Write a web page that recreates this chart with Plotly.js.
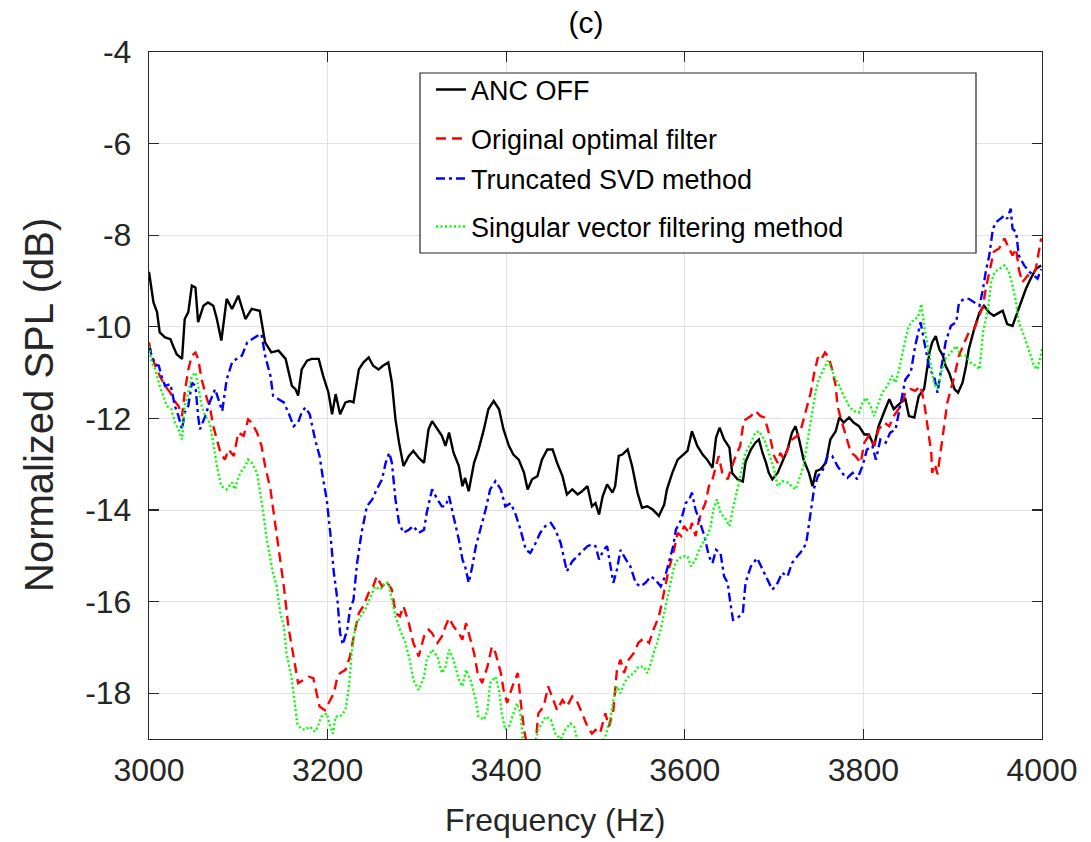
<!DOCTYPE html>
<html>
<head>
<meta charset="utf-8">
<script src="https://cdn.plot.ly/plotly-3.0.1.min.js"></script>
<style>html,body{margin:0;padding:0;background:#fff;}#chart{width:1091px;height:842px;}</style>
</head>
<body>
<div id="chart"></div>
<script>
// ---- data ----
var seriesNames = ['ANC OFF', 'Original optimal filter', 'Truncated SVD method', 'Singular vector filtering method'];

var freqOff = [3000,3003,3005,3009,3012,3018,3024,3027,3031,3037,3040,3044,3048,3052,3055,3061,3066,3072,3076,3081,3087,3093,3100,3108,3115,3124,3130,3137,3145,3153,3160,
3164,3167,3171,3177,3182,3190,3195,3201,3205,3209,3214,3220,3225,3229,3235,3240,3246,3251,3257,3262,3268,3272,3276,3280,3285,3291,3296,3302,3308,3313,3317,3323,3328,
3332,3336,3341,3347,3351,3354,3358,3364,3369,3375,3380,3386,3392,3397,3403,3408,3414,3420,3424,3429,3435,3440,3446,3452,3457,3463,3468,3474,3480,3485,3491,3496,
3500,3504,3508,3513,3519,3522,3526,3530,3536,3541,3547,3552,3558,3564,3571,3577,3580,3586,3592,3597,3603,3608,3614,3620,3625,3631,3635,3639,3644,3650,3653,3659,3665,
3668,3674,3679,3683,3687,3691,3694,3698,3704,3709,3715,3720,3724,3728,3733,3739,3743,3747,3752,3758,3763,3769,3773,3778,3784,3789,3795,3801,3806,3812,3817,3823,3829,3834,
3842,3847,3851,3857,3862,3868,3874,3877,3881,3885,3889,3892,3896,3902,3906,3911,3915,3918,3924,3930,3935,3941,3946,3952,3956,3961,3967,3971,3976,3982,3987,3993,3999];
var splOff = [-8.8,-9.25,-9.47,-9.68,-10.12,-10.23,-10.27,-10.42,-10.6,-10.7,-9.83,-9.68,-9.1,-9.14,-9.9,-9.54,-9.47,-9.54,-9.83,-10.3,-9.39,-9.61,-9.32,-9.83,-9.61,-9.65,-10.34,-10.56,-10.52,-10.7,-11.29,
-11.36,-11.5,-10.93,-10.74,-10.7,-10.7,-11.07,-11.44,-11.91,-11.47,-11.91,-11.65,-11.62,-11.65,-10.93,-10.78,-10.67,-10.85,-10.93,-10.85,-10.78,-11.22,-12.02,-12.53,-13.04,-12.82,-12.71,-12.86,-12.97,-12.24,-12.06,-12.24,-12.38,
-12.6,-12.31,-12.75,-13.04,-13.48,-13.3,-13.59,-12.97,-12.68,-12.24,-11.8,-11.62,-11.8,-12.24,-12.6,-12.79,-12.9,-13.19,-13.55,-13.33,-13.26,-12.9,-12.68,-12.68,-12.97,-13.26,-13.66,-13.55,-13.66,-13.59,-13.48,-13.92,
-13.85,-14.1,-13.7,-13.44,-13.62,-13.48,-12.82,-12.79,-12.68,-13.04,-13.62,-13.95,-13.92,-13.99,-14.13,-13.88,-13.55,-13.19,-12.9,-12.82,-12.71,-12.28,-12.6,-12.79,-12.9,-13.08,-12.42,-12.2,-12.46,-12.64,-13.19,-13.33,-13.38,
-12.95,-12.68,-12.53,-12.46,-12.75,-12.97,-13.19,-13.33,-13.19,-12.97,-12.68,-12.31,-12.17,-12.46,-12.9,-13.19,-13.48,-13.15,-13.11,-12.97,-12.46,-12.28,-11.98,-12.09,-11.98,-12.09,-12.17,-12.35,-12.35,-12.6,-12.17,-11.87,-11.58,-11.8,
-11.65,-11.58,-11.95,-11.98,-11.51,-11.36,-10.56,-10.34,-10.2,-10.49,-10.63,-10.85,-11.0,-11.36,-11.44,-11.22,-10.85,-10.49,-10.05,-9.69,-9.54,-9.69,-9.76,-9.69,-9.65,-9.94,-9.98,-9.76,-9.47,-9.17,-8.96,-8.74,-8.66];

var freqOpt = [3000,3003,3007,3012,3018,3024,3027,3033,3037,3040,3044,3048,3052,3055,3059,3065,3068,3072,3076,3080,3085,3089,3095,3100,3106,3111,3115,3121,3126,3130,3136,3141,3147,3151,3156,3162,
3164,3167,3173,3179,3184,3188,3191,3197,3203,3207,3211,3214,3220,3225,3230,3235,3240,3246,3251,3255,3261,3266,3272,3276,3281,3285,3291,3296,3302,3308,3313,3317,3323,3328,
3332,3336,3341,3347,3351,3355,3360,3364,3368,3373,3379,3384,3388,3394,3397,3401,3407,3413,3416,3420,3425,3432,3436,3442,3447,3451,3457,3463,3468,3474,3480,3485,3491,3496,
3500,3505,3511,3515,3520,3524,3528,3532,3537,3543,3548,3554,3560,3565,3571,3575,3578,3582,3588,3592,3596,3599,3605,3608,3612,3616,3620,3623,3627,3631,3635,3638,3642,3648,3653,3657,3662,3666,
3674,3679,3685,3689,3692,3696,3700,3704,3707,3711,3715,3720,3726,3730,3733,3737,3741,3745,3749,3752,3757,3761,3765,3769,3771,3775,3780,3786,3791,3797,3801,3806,3812,3817,3823,3829,3834,
3842,3847,3853,3858,3864,3868,3872,3876,3877,3880,3883,3887,3891,3894,3898,3902,3907,3913,3918,3924,3930,3934,3937,3941,3946,3952,3958,3963,3967,3971,3974,3978,3984,3989,3993,3999];
var splOpt = [-10.34,-10.63,-10.85,-11.07,-11.29,-11.44,-11.58,-11.73,-11.95,-11.44,-10.93,-10.63,-10.56,-10.7,-11.15,-11.58,-11.73,-12.17,-12.46,-12.75,-12.9,-12.68,-12.82,-12.31,-12.38,-12.02,-12.09,-12.31,-12.6,-13.04,-13.55,-14.28,-15.08,-15.67,-16.54,-17.27,
-17.42,-17.78,-17.71,-17.64,-17.67,-18.0,-18.29,-18.37,-18.15,-18.0,-17.64,-17.56,-17.49,-17.2,-16.69,-16.25,-16.1,-15.81,-15.67,-15.45,-15.67,-15.56,-15.74,-16.25,-16.32,-16.1,-16.47,-16.9,-17.2,-16.76,-16.61,-16.69,-16.9,-16.76,
-16.54,-16.36,-16.54,-16.69,-16.83,-16.47,-16.83,-17.12,-17.56,-17.78,-17.42,-16.98,-17.12,-17.56,-17.92,-18.21,-17.85,-17.56,-18.15,-18.8,-19.3,-19.3,-18.44,-18.29,-17.85,-18.07,-18.37,-18.15,-18.29,-18.07,-18.21,-18.44,-18.73,-18.88,
-18.8,-18.88,-18.44,-18.73,-18.37,-17.49,-17.27,-17.56,-17.27,-17.12,-16.9,-16.8,-16.9,-16.61,-16.32,-15.96,-15.67,-15.3,-14.87,-14.5,-14.57,-14.35,-14.5,-14.28,-14.57,-14.21,-13.99,-13.85,-13.48,-13.33,-13.04,-12.82,-13.19,-13.33,-13.04,-12.82,-12.6,-12.05,
-11.95,-11.84,-11.95,-11.98,-12.17,-12.46,-12.82,-12.97,-12.75,-12.9,-12.68,-12.46,-12.38,-12.24,-12.02,-11.73,-11.44,-11.0,-10.67,-10.74,-10.56,-10.67,-10.93,-11.29,-11.73,-12.02,-12.38,-12.75,-12.82,-12.97,-12.53,-12.38,-12.6,-12.24,-12.09,-12.17,-11.95,
-11.72,-11.44,-11.36,-11.4,-11.29,-11.65,-12.17,-12.75,-13.19,-13.0,-13.22,-12.68,-12.09,-11.65,-11.36,-11.07,-10.63,-10.34,-10.12,-10.05,-9.76,-9.54,-9.17,-8.8,-8.36,-8.29,-8.07,-8.29,-8.44,-8.29,-8.74,-9.03,-8.88,-8.88,-8.74,-8.07];

var freqTsvd = [3000,3003,3007,3011,3014,3018,3024,3029,3033,3037,3040,3044,3048,3052,3055,3057,3063,3068,3074,3078,3082,3087,3093,3098,3104,3110,3115,3121,3126,3130,3136,3139,3145,3151,3156,3162,
3167,3171,3175,3180,3186,3191,3195,3199,3203,3207,3211,3214,3217,3222,3225,3229,3233,3238,3244,3250,3255,3261,3265,3269,3272,3276,3280,3285,3291,3296,3302,3308,3311,3317,3323,3328,
3332,3336,3341,3347,3351,3354,3358,3362,3366,3371,3377,3382,3388,3394,3399,3405,3410,3416,3422,3427,3433,3438,3444,3450,3455,3461,3464,3468,3474,3480,3485,3491,3496,
3500,3504,3509,3513,3517,3520,3524,3528,3534,3539,3545,3550,3556,3562,3567,3573,3578,3582,3587,3590,3596,3601,3605,3608,3612,3616,3622,3627,3631,3635,3640,3644,3648,3651,3654,3659,3665,
3668,3674,3681,3687,3693,3698,3704,3709,3715,3720,3726,3732,3736,3739,3743,3745,3749,3754,3760,3765,3771,3776,3782,3788,3793,3799,3804,3810,3814,3819,3825,3830,
3836,3842,3847,3853,3858,3864,3868,3874,3879,3883,3887,3892,3898,3904,3907,3913,3918,3924,3930,3934,3937,3941,3945,3949,3954,3958,3961,3965,3967,3971,3974,3980,3986,3991,3995,3999];
var splTsvd = [-10.42,-10.63,-10.82,-10.85,-11.07,-11.29,-11.25,-11.73,-11.95,-12.24,-11.87,-11.73,-11.22,-11.29,-11.95,-12.24,-11.95,-11.65,-11.36,-11.58,-11.84,-11.15,-10.78,-10.7,-10.63,-10.34,-10.27,-10.2,-10.16,-10.63,-11.07,-11.51,-11.58,-11.65,-11.87,-12.17,
-12.09,-11.87,-11.76,-11.91,-12.46,-12.82,-13.33,-13.77,-14.5,-15.37,-15.96,-16.69,-16.94,-16.61,-16.18,-15.96,-15.16,-14.5,-13.92,-13.77,-13.55,-13.33,-12.97,-12.75,-12.97,-13.77,-14.28,-14.5,-14.43,-14.35,-14.5,-14.43,-14.06,-13.55,-13.77,-13.92,
-13.92,-13.7,-14.14,-14.65,-15.08,-15.23,-15.59,-15.23,-14.79,-14.43,-13.99,-13.55,-13.37,-13.55,-13.92,-13.85,-14.06,-14.43,-14.87,-14.94,-14.72,-14.5,-14.35,-14.28,-14.43,-14.72,-15.01,-15.34,-15.12,-15.01,-14.9,-14.79,-14.75,
-14.79,-15.08,-14.87,-14.79,-15.23,-15.59,-15.3,-14.87,-15.08,-15.23,-15.59,-15.67,-15.59,-15.45,-15.52,-15.67,-15.45,-15.16,-14.79,-14.43,-14.21,-13.85,-13.77,-13.62,-13.99,-14.21,-14.57,-15.01,-15.16,-14.87,-14.94,-15.45,-15.59,-16.03,-16.4,-16.36,-16.25,
-15.59,-15.23,-15.05,-15.3,-15.52,-15.74,-15.59,-15.37,-15.45,-15.16,-15.01,-14.87,-14.72,-14.35,-13.77,-13.51,-13.26,-13.15,-12.82,-12.82,-13.04,-13.19,-13.3,-13.19,-13.33,-13.04,-12.68,-12.6,-12.9,-12.46,-12.53,-12.31,
-12.24,-11.65,-11.15,-11.0,-10.42,-9.9,-10.34,-10.93,-11.07,-11.44,-10.93,-10.34,-9.98,-9.9,-9.47,-9.39,-9.39,-9.47,-9.54,-9.17,-8.8,-8.44,-7.86,-7.71,-7.64,-7.57,-7.64,-7.42,-7.86,-7.93,-8.44,-8.66,-8.8,-8.88,-8.95,-8.74];

var freqSvf = [3000,3003,3007,3012,3016,3020,3025,3029,3033,3037,3040,3044,3048,3052,3055,3059,3063,3068,3072,3076,3081,3087,3093,3096,3102,3108,3111,3115,3121,3124,3128,3132,3138,3143,3147,3151,3154,3160,3163,
3166,3170,3175,3180,3186,3189,3193,3199,3203,3206,3209,3214,3220,3224,3227,3231,3237,3242,3248,3253,3259,3264,3268,3272,3276,3281,3287,3292,3296,3302,3308,3311,3317,3323,3328,
3332,3336,3341,3347,3351,3355,3360,3366,3369,3375,3379,3382,3388,3392,3395,3399,3403,3408,3412,3416,3419,3430,3436,3444,3450,3455,3461,3466,3472,3476,3480,3490,
3500,3511,3517,3520,3524,3528,3532,3537,3543,3548,3554,3558,3562,3565,3569,3573,3577,3580,3584,3588,3592,3597,3603,3607,3612,3616,3620,3625,3629,3632,3636,3640,3646,3650,3653,3657,3661,3665,
3668,3674,3679,3683,3689,3694,3700,3704,3709,3715,3720,3724,3728,3733,3739,3743,3747,3750,3755,3760,3763,3767,3773,3778,3784,3789,3795,3799,3803,3808,3812,3816,3821,3827,3832,
3836,3840,3844,3847,3851,3857,3861,3865,3868,3872,3876,3879,3883,3887,3892,3898,3904,3909,3915,3920,3926,3930,3934,3940,3943,3947,3952,3958,3963,3967,3971,3974,3980,3986,3991,3995,4000];
var splSvf = [-10.42,-10.78,-10.93,-11.29,-11.51,-11.73,-11.8,-12.09,-12.24,-12.46,-11.73,-11.44,-11.07,-11.0,-11.29,-11.73,-11.95,-12.09,-12.53,-13.04,-13.48,-13.55,-13.4,-13.55,-13.19,-13.04,-12.9,-12.97,-13.19,-13.55,-14.06,-14.65,-15.3,-15.67,-16.25,-16.54,-17.12,-17.71,-18.15,
-18.66,-18.77,-18.8,-18.73,-18.84,-18.73,-18.51,-18.44,-18.73,-18.88,-18.51,-18.51,-18.37,-17.85,-17.12,-16.54,-16.32,-16.18,-15.89,-15.67,-15.74,-15.59,-15.59,-15.96,-16.32,-16.61,-16.9,-17.27,-17.71,-17.93,-17.64,-17.27,-17.05,-17.2,-17.56,
-17.42,-17.05,-17.27,-17.71,-17.85,-17.49,-17.71,-18.15,-18.51,-18.58,-18.37,-17.78,-17.64,-17.93,-18.44,-18.8,-18.73,-18.44,-18.22,-18.44,-19.1,-19.2,-18.8,-18.51,-18.58,-18.88,-19.0,-18.8,-18.66,-18.73,-19.05,-19.4,
-19.3,-18.95,-18.51,-18.15,-17.85,-18.0,-17.78,-17.64,-17.56,-17.42,-17.42,-17.56,-17.34,-17.12,-16.9,-16.61,-16.25,-15.96,-15.59,-15.23,-15.08,-15.01,-15.01,-15.23,-15.08,-14.87,-14.72,-14.57,-14.35,-13.99,-13.77,-14.06,-14.21,-14.35,-14.06,-13.7,-13.4,-12.97,
-12.75,-12.53,-12.31,-12.28,-12.46,-12.75,-13.11,-13.48,-13.37,-13.4,-13.48,-13.55,-13.33,-13.04,-12.31,-11.8,-11.36,-11.15,-10.93,-10.74,-10.85,-11.07,-11.29,-11.51,-11.73,-11.84,-11.87,-11.65,-11.55,-11.73,-11.95,-11.73,-11.44,-11.29,-11.07,
-11.22,-10.93,-10.56,-10.27,-9.98,-9.83,-9.8,-9.5,-9.98,-10.42,-10.93,-11.22,-11.36,-11.0,-10.7,-10.56,-10.42,-10.63,-10.63,-10.78,-10.85,-10.93,-10.12,-9.54,-9.03,-8.8,-8.73,-8.66,-8.8,-9.1,-9.47,-9.9,-10.2,-10.56,-10.85,-10.93,-10.49];

var xTickVals = [3000, 3200, 3400, 3600, 3800, 4000];
var xTickLabels = ['3000', '3200', '3400', '3600', '3800', '4000'];
var yTickVals = [-18, -16, -14, -12, -10, -8, -6, -4];
var yTickLabels = ['-18', '-16', '-14', '-12', '-10', '-8', '-6', '-4'];
var titleText = '(c)';
var xTitleText = 'Frequency (Hz)';
var yTitleText = 'Normalized SPL (dB)';

// ---- drawing ----
var FONT = 'Liberation Sans, Arial, Helvetica, sans-serif';
var plotL = 149, plotR = 1042, plotT = 52, plotB = 739;
function px2paperX(p){ return (p - plotL) / (plotR - plotL); }
function px2paperY(p){ return (plotB - p) / (plotB - plotT); }

var legendRowsPx = [90, 139, 179, 227];
var legendIds = ['legend', 'legend2', 'legend3', 'legend4'];
var colors = ['#000000', '#ff0000', '#0000ff', '#00ff00'];
var dashes = ['solid', '10px,6px', '9px,4px,3px,4px', '2px,2.5px'];
var xs = [freqOff, freqOpt, freqTsvd, freqSvf];
var ys = [splOff, splOpt, splTsvd, splSvf];

var traces = [];
for (var i = 0; i < 4; i++) {
  traces.push({x: xs[i], y: ys[i], name: seriesNames[i], legend: legendIds[i], mode: 'lines',
    line: {color: colors[i], width: 2.4, dash: dashes[i]}});
}

var axisCommon = {
  showline: true, linecolor: '#262626', linewidth: 1.2, mirror: 'ticks',
  ticks: 'inside', ticklen: 10, tickwidth: 1.2, tickcolor: '#262626',
  showgrid: true, gridcolor: '#e3e3e3', gridwidth: 1, zeroline: false,
  tickfont: {family: FONT, size: 32, color: '#262626'}
};

var layout = {
  width: 1091, height: 842,
  paper_bgcolor: '#ffffff', plot_bgcolor: '#ffffff',
  margin: {l: plotL, r: 1091 - plotR, t: plotT, b: 842 - plotB, pad: 0},
  font: {family: FONT, color: '#262626'},
  title: {text: titleText, font: {family: FONT, size: 30, color: '#000000'}, x: px2paperX(586), xref: 'paper', y: 1 - 22/842, yref: 'container', yanchor: 'middle', xanchor: 'center'},
  xaxis: Object.assign({}, axisCommon, {
    range: [3000, 4000], tickmode: 'array', tickvals: xTickVals, ticktext: xTickLabels, ticklabelstandoff: 2
  }),
  yaxis: Object.assign({}, axisCommon, {
    range: [-19, -4], tickmode: 'array', tickvals: yTickVals, ticktext: yTickLabels, ticklabelstandoff: 10
  }),
  showlegend: true,
  annotations: [
    {text: xTitleText, xref: 'paper', yref: 'paper', x: px2paperX(555), y: px2paperY(820), xanchor: 'center', yanchor: 'middle', showarrow: false,
     font: {family: FONT, size: 32, color: '#262626'}},
    {text: yTitleText, xref: 'paper', yref: 'paper', x: px2paperX(39), y: px2paperY(405), xanchor: 'center', yanchor: 'middle', showarrow: false, textangle: -90,
     font: {family: FONT, size: 40, color: '#262626'}}
  ],
  shapes: [{
    type: 'rect', xref: 'paper', yref: 'paper', layer: 'above',
    x0: px2paperX(420), x1: px2paperX(976), y0: px2paperY(253), y1: px2paperY(73),
    line: {color: '#262626', width: 1.2}, fillcolor: '#ffffff'
  }]
};
for (var j = 0; j < 4; j++) {
  layout[legendIds[j]] = {
    x: px2paperX(431), y: px2paperY(legendRowsPx[j]), xanchor: 'left', yanchor: 'middle',
    bgcolor: 'rgba(0,0,0,0)', borderwidth: 0,
    font: {family: FONT, size: 27, color: '#000000'}
  };
}

Plotly.newPlot('chart', traces, layout, {displayModeBar: false, staticPlot: true});
</script>
</body>
</html>
